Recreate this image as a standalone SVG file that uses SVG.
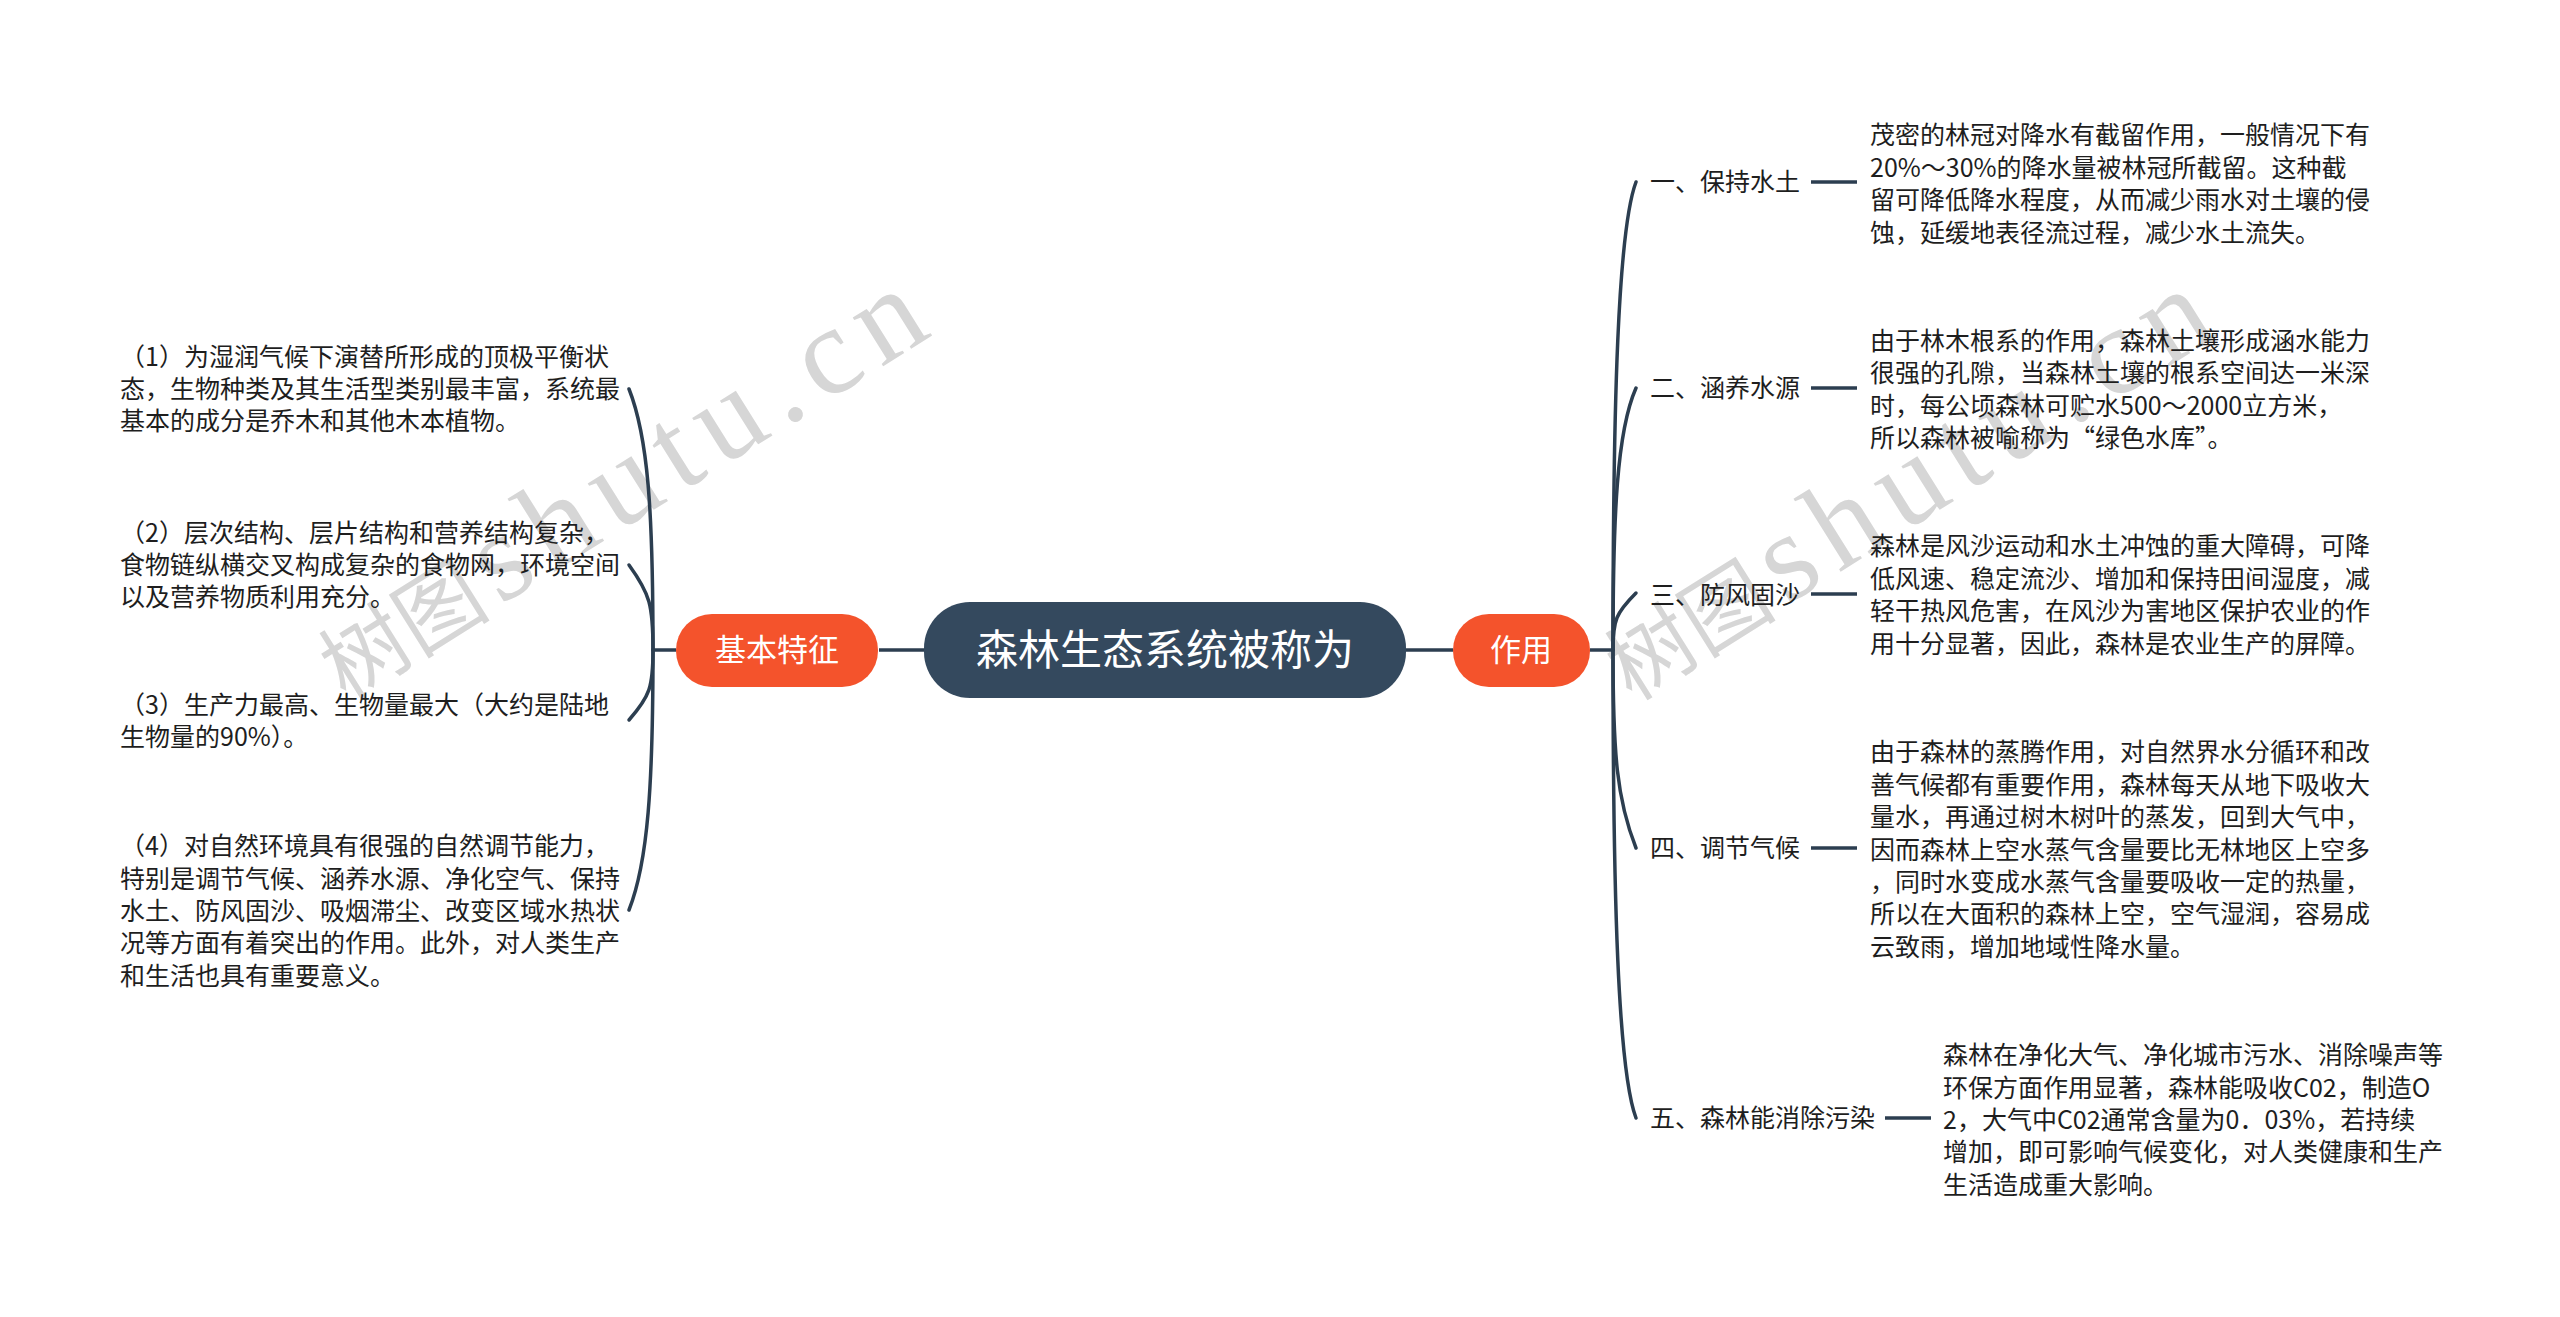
<svg xmlns="http://www.w3.org/2000/svg" width="2560" height="1317" viewBox="0 0 2560 1317">
<style>
.bg{fill:#ffffff}
.wm{fill:#d6d6d6}
.wmc{font-family:"Noto Sans CJK SC","Liberation Serif",serif}
.wml{font-family:"Liberation Serif","Noto Sans CJK SC",serif}
.link{fill:none;stroke:#2c3e50;stroke-width:3.5;stroke-linecap:round}
.stub{fill:none;stroke:#2c3e50;stroke-width:3.5}
.body{font-family:"Noto Sans CJK SC","Liberation Sans",sans-serif;font-size:25px;fill:#1e1e1e}
.topic{font-family:"Noto Sans CJK SC","Liberation Sans",sans-serif;fill:#ffffff;text-anchor:middle}
.orange{fill:#f4532c}
.dark{fill:#34495e}
</style>
<rect class="bg" x="0" y="0" width="2560" height="1317"/>

<g id="watermarks" class="wm">
  <g transform="translate(346,702) rotate(-32)">
    <text class="wmc" x="0" y="0" font-size="86">树图</text>
    <text class="wml" x="182" y="0" font-size="125" letter-spacing="13">shutu.cn</text>
  </g>
  <g transform="translate(1632,702) rotate(-32)">
    <text class="wmc" x="0" y="0" font-size="86">树图</text>
    <text class="wml" x="182" y="0" font-size="125" letter-spacing="13">shutu.cn</text>
  </g>
</g>

<g id="connectors">
  <line class="stub" x1="879" y1="650" x2="924" y2="650"/>
  <line class="stub" x1="1406" y1="650" x2="1453" y2="650"/>
  <line class="stub" x1="653" y1="650" x2="676" y2="650"/>
  <line class="stub" x1="1590" y1="650" x2="1613" y2="650"/>
  <path class="link" d="M653,650 C653,510 648,437 629,389"/>
  <path class="link" d="M653,650 C653,605 650,594 629,565"/>
  <path class="link" d="M653,650 C653,687 650,696 629,720"/>
  <path class="link" d="M653,650 C653,785 648,862 629,910"/>
  <path class="link" d="M1613,650 C1613,402 1618,230 1636,182"/>
  <path class="link" d="M1613,650 C1613,513 1617,431 1636,388"/>
  <path class="link" d="M1613,650 C1613,620 1616,613 1636,593"/>
  <path class="link" d="M1613,650 C1613,755 1617,800 1636,848"/>
  <path class="link" d="M1613,650 C1613,898 1618,1070 1636,1118"/>
  <line class="stub" x1="1811" y1="182" x2="1857" y2="182"/>
  <line class="stub" x1="1811" y1="388" x2="1857" y2="388"/>
  <line class="stub" x1="1811" y1="594" x2="1857" y2="594"/>
  <line class="stub" x1="1811" y1="848" x2="1857" y2="848"/>
  <line class="stub" x1="1885" y1="1118" x2="1931" y2="1118"/>
</g>

<g id="central">
  <rect class="dark" x="924" y="602" width="482" height="96" rx="46" ry="46"/>
  <text class="topic" x="1165" y="665" font-size="42">森林生态系统被称为</text>
</g>

<g id="basic">
  <rect class="orange" x="676" y="614" width="202" height="73" rx="36" ry="36"/>
  <text class="topic" x="777" y="661" font-size="31">基本特征</text>
</g>

<g id="role">
  <rect class="orange" x="1453" y="614" width="137" height="73" rx="36" ry="36"/>
  <text class="topic" x="1521" y="661" font-size="31">作用</text>
</g>

<g id="basic-1">
  <text class="body" x="120" y="365.6"><tspan x="120">（1）为湿润气候下演替所形成的顶极平衡状</tspan><tspan x="120" dy="32.4">态，生物种类及其生活型类别最丰富，系统最</tspan><tspan x="120" dy="32.4">基本的成分是乔木和其他木本植物。</tspan></text>
</g>
<g id="basic-2">
  <text class="body" x="120" y="541.6"><tspan x="120">（2）层次结构、层片结构和营养结构复杂，</tspan><tspan x="120" dy="32.4">食物链纵横交叉构成复杂的食物网，环境空间</tspan><tspan x="120" dy="32.4">以及营养物质利用充分。</tspan></text>
</g>
<g id="basic-3">
  <text class="body" x="120" y="713.8"><tspan x="120">（3）生产力最高、生物量最大（大约是陆地</tspan><tspan x="120" dy="32.4">生物量的90%）。</tspan></text>
</g>
<g id="basic-4">
  <text class="body" x="120" y="855.2"><tspan x="120">（4）对自然环境具有很强的自然调节能力，</tspan><tspan x="120" dy="32.4">特别是调节气候、涵养水源、净化空气、保持</tspan><tspan x="120" dy="32.4">水土、防风固沙、吸烟滞尘、改变区域水热状</tspan><tspan x="120" dy="32.4">况等方面有着突出的作用。此外，对人类生产</tspan><tspan x="120" dy="32.4">和生活也具有重要意义。</tspan></text>
</g>

<g id="role-1">
  <text class="body" x="1650" y="191">一、保持水土</text>
  <text class="body" x="1870" y="144.4"><tspan x="1870">茂密的林冠对降水有截留作用，一般情况下有</tspan><tspan x="1870" dy="32.4">20%～30%的降水量被林冠所截留。这种截</tspan><tspan x="1870" dy="32.4">留可降低降水程度，从而减少雨水对土壤的侵</tspan><tspan x="1870" dy="32.4">蚀，延缓地表径流过程，减少水土流失。</tspan></text>
</g>
<g id="role-2">
  <text class="body" x="1650" y="397">二、涵养水源</text>
  <text class="body" x="1870" y="349.9"><tspan x="1870">由于林木根系的作用，森林土壤形成涵水能力</tspan><tspan x="1870" dy="32.4">很强的孔隙，当森林土壤的根系空间达一米深</tspan><tspan x="1870" dy="32.4">时，每公顷森林可贮水500～2000立方米，</tspan><tspan x="1870" dy="32.4">所以森林被喻称为“绿色水库”。</tspan></text>
</g>
<g id="role-3">
  <text class="body" x="1650" y="604">三、防风固沙</text>
  <text class="body" x="1870" y="555.4"><tspan x="1870">森林是风沙运动和水土冲蚀的重大障碍，可降</tspan><tspan x="1870" dy="32.4">低风速、稳定流沙、增加和保持田间湿度，减</tspan><tspan x="1870" dy="32.4">轻干热风危害，在风沙为害地区保护农业的作</tspan><tspan x="1870" dy="32.4">用十分显著，因此，森林是农业生产的屏障。</tspan></text>
</g>
<g id="role-4">
  <text class="body" x="1650" y="857">四、调节气候</text>
  <text class="body" x="1870" y="761.3"><tspan x="1870">由于森林的蒸腾作用，对自然界水分循环和改</tspan><tspan x="1870" dy="32.4">善气候都有重要作用，森林每天从地下吸收大</tspan><tspan x="1870" dy="32.4">量水，再通过树木树叶的蒸发，回到大气中，</tspan><tspan x="1870" dy="32.4">因而森林上空水蒸气含量要比无林地区上空多</tspan><tspan x="1870" dy="32.4">，同时水变成水蒸气含量要吸收一定的热量，</tspan><tspan x="1870" dy="32.4">所以在大面积的森林上空，空气湿润，容易成</tspan><tspan x="1870" dy="32.4">云致雨，增加地域性降水量。</tspan></text>
</g>
<g id="role-5">
  <text class="body" x="1650" y="1127">五、森林能消除污染</text>
  <text class="body" x="1943" y="1064.2"><tspan x="1943">森林在净化大气、净化城市污水、消除噪声等</tspan><tspan x="1943" dy="32.4">环保方面作用显著，森林能吸收C02，制造O</tspan><tspan x="1943" dy="32.4">2，大气中C02通常含量为0．03%，若持续</tspan><tspan x="1943" dy="32.4">增加，即可影响气候变化，对人类健康和生产</tspan><tspan x="1943" dy="32.4">生活造成重大影响。</tspan></text>
</g>
</svg>
